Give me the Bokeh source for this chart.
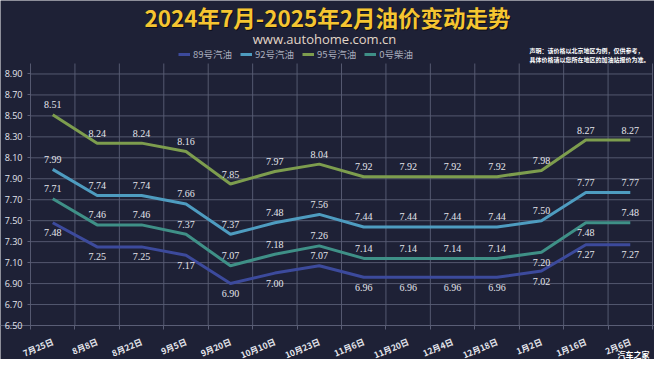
from bokeh.plotting import figure
from bokeh.models import ColumnDataSource, FixedTicker, LabelSet, Label, Legend, LegendItem
from bokeh.embed import file_html
from bokeh.resources import INLINE

# ---------------- data ----------------
dates = ["7月25日", "8月8日", "8月22日", "9月5日", "9月20日", "10月10日", "10月23日",
         "11月6日", "11月20日", "12月4日", "12月18日", "1月2日", "1月16日", "2月6日"]
p89 = [7.48, 7.25, 7.25, 7.17, 6.90, 7.00, 7.07, 6.96, 6.96, 6.96, 6.96, 7.02, 7.27, 7.27]
p92 = [7.99, 7.74, 7.74, 7.66, 7.37, 7.48, 7.56, 7.44, 7.44, 7.44, 7.44, 7.50, 7.77, 7.77]
p95 = [8.51, 8.24, 8.24, 8.16, 7.85, 7.97, 8.04, 7.92, 7.92, 7.92, 7.92, 7.98, 8.27, 8.27]
p0 = [7.71, 7.46, 7.46, 7.37, 7.07, 7.18, 7.26, 7.14, 7.14, 7.14, 7.14, 7.20, 7.48, 7.48]
series_names = ["89号汽油", "92号汽油", "95号汽油", "0号柴油"]
y_ticks = [6.50, 6.70, 6.90, 7.10, 7.30, 7.50, 7.70, 7.90, 8.10, 8.30, 8.50, 8.70, 8.90]

title_text = "2024年7月-2025年2月油价变动走势"
subtitle_text = "www.autohome.com.cn"
note_line1 = "声明：该价格以北京地区为例，仅供参考，"
note_line2 = "具体价格请以您所在地区的加油站报价为准。"
watermark = "汽车之家"

# ---------------- style / layout ----------------
BG = "#1e2136"
GRID = "#5a5e76"
TXT = "#e4e5ec"
COLORS = ["#3c4a9c", "#4e9cc0", "#7d9d4e", "#3f9087"]
CJK = "Noto Sans CJK SC"
NUM = "Open Sans"

W, H = 654, 359
n = len(dates)
xs = list(range(n))
Y0, Y1 = 6.5, 9.0                      # value extent of the plotting area
TOP_PAD, BOTTOM_PAD = 63, 34           # px above / below the plotting area
LEFT_PAD, RIGHT_PAD = 30, 2            # px left / right of the plotting area
PX = (H - TOP_PAD - BOTTOM_PAD) / (Y1 - Y0)
CW = (W - LEFT_PAD - RIGHT_PAD) / n
X0, X1 = -0.5, n - 0.5

p = figure(width=W, height=H, output_backend="svg", toolbar_location=None,
           x_range=(X0 - LEFT_PAD / CW, X1 + RIGHT_PAD / CW),
           y_range=(Y0 - BOTTOM_PAD / PX, Y1 + TOP_PAD / PX),
           min_border_left=0, min_border_right=0, min_border_top=0, min_border_bottom=0,
           background_fill_color=BG, border_fill_color=BG, outline_line_color=None)
p.xgrid.visible = False
p.ygrid.visible = False

# grid lines limited to the plotting area
bounds = [i - 0.5 for i in range(n + 1)]
p.segment(x0=bounds, x1=bounds, y0=[Y0] * len(bounds), y1=[Y1] * len(bounds),
          line_color=GRID, line_alpha=0.9, line_width=1)
p.segment(x0=[X0] * len(y_ticks), x1=[X1] * len(y_ticks), y0=y_ticks, y1=y_ticks,
          line_color=GRID, line_alpha=0.9, line_width=1)

# x axis placed on the base line (takes no border space)
p.xaxis.fixed_location = Y0
p.xaxis.ticker = FixedTicker(ticks=xs, minor_ticks=bounds)
p.xaxis.major_label_overrides = {i: d for i, d in enumerate(dates)}
p.xaxis.major_label_orientation = 0.4
p.xaxis.major_tick_line_color = None
p.xaxis.major_tick_in = 0
p.xaxis.major_tick_out = 0
p.xaxis.minor_tick_line_color = GRID
p.xaxis.minor_tick_out = 4
p.xaxis.minor_tick_in = 0
p.xaxis.axis_line_color = GRID
p.xaxis.major_label_standoff = 11
p.xaxis.major_label_text_color = TXT
p.xaxis.major_label_text_font = CJK
p.xaxis.major_label_text_font_style = "bold"
p.xaxis.major_label_text_font_size = "8.5px"

# y axis placed on the left edge of the plotting area
p.yaxis.fixed_location = X0
p.yaxis.ticker = FixedTicker(ticks=y_ticks)
p.yaxis.major_label_overrides = {t: f"{t:.2f}" for t in y_ticks}
p.yaxis.axis_line_color = None
p.yaxis.major_tick_line_color = GRID
p.yaxis.major_tick_out = 3
p.yaxis.major_tick_in = 0
p.yaxis.minor_tick_line_color = None
p.yaxis.major_label_text_color = TXT
p.yaxis.major_label_text_font = NUM
p.yaxis.major_label_text_font_size = "9px"
p.yaxis.major_label_standoff = 5

# series (value labels above, 89号 below; a few labels flipped as in the source chart)
all_series = [p89, p92, p95, p0]
label_side = [-1, 1, 1, 1]
flipped = {0: {6}, 3: {11, 12}}
LABEL_GAP = 10
renderers = []
for k, (name, vals, col) in enumerate(zip(series_names, all_series, COLORS)):
    src = ColumnDataSource(dict(x=xs, y=vals, t=[f"{v:.2f}" for v in vals],
                                off=[LABEL_GAP * label_side[k] * (-1 if i in flipped.get(k, ()) else 1)
                                     for i in xs]))
    r = p.line("x", "y", source=src, line_color=col, line_width=3)
    renderers.append((name, r))
    p.add_layout(LabelSet(x="x", y="y", text="t", source=src, y_offset="off",
                          text_align="center", text_baseline="middle",
                          text_color=TXT, text_font=NUM, text_font_size="10px"))

legend = Legend(items=[LegendItem(label=nm, renderers=[r]) for nm, r in renderers],
                orientation="horizontal", location=(178, 298),
                background_fill_alpha=0, border_line_color=None,
                padding=0, margin=0, spacing=8,
                glyph_width=12, glyph_height=8, label_height=12, label_standoff=3,
                label_text_font=CJK, label_text_font_size="9.5px",
                label_text_color="#a9adbd")
p.add_layout(legend, "center")

# title & texts (screen units from the bottom-left corner)
def lab(x, y, text, **kw):
    p.add_layout(Label(x=x, y=y, x_units="screen", y_units="screen", text=text,
                       text_baseline="middle", **kw))

lab(328, 342, title_text, text_align="center", text_font=CJK, text_font_style="bold",
    text_font_size="22.5px", text_color="#000000", text_alpha=0.6)
lab(327, 343, title_text, text_align="center", text_font=CJK, text_font_style="bold",
    text_font_size="22.5px", text_color="#f5c531")
lab(324, 321, subtitle_text, text_align="center", text_font=NUM,
    text_font_size="13px", text_color="#e2d6c8")
lab(529, 309, note_line1, text_align="left", text_font=CJK, text_font_style="bold",
    text_font_size="6px", text_color="#ffffff")
lab(529, 300, note_line2, text_align="left", text_font=CJK, text_font_style="bold",
    text_font_size="6px", text_color="#ffffff")
lab(649, 5, watermark, text_align="right", text_font=CJK, text_font_style="bold",
    text_font_size="8px", text_color="#ffffff")

open("out.html", "w").write(file_html(p, INLINE))
